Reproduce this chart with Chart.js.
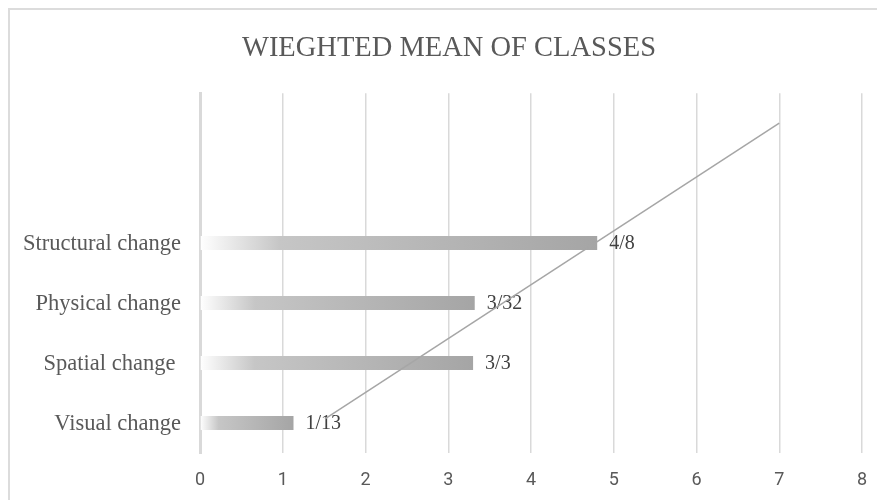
<!DOCTYPE html>
<html lang="en">
<head>
<meta charset="UTF-8">
<script src="https://cdn.jsdelivr.net/npm/chart.js@4.4.0/dist/chart.umd.min.js"></script>
<title>Wieghted mean of classes</title>
<style>
  html, body { margin: 0; background: #fff; overflow: hidden; }
  .frame {
    position: absolute; left: 8px; top: 8px; width: 900px; height: 520px;
    border-left: 2px solid #dcdcdc; border-top: 2px solid #dcdcdc;
  }
  /* the original chart frame runs past the right edge of the picture */
  .chart-container { position: absolute; left: 0; top: 0; width: 898px; height: 500px; }
</style>
</head>
<body>
<div class="frame"></div>
<div class="chart-container"><canvas id="myChart"></canvas></div>
<script>
// categories top to bottom (top two rows are empty in the original)
const categories = ['', '', 'Structural change', 'Physical change', 'Spatial change ', 'Visual change'];
const values = [null, null, 4.8, 3.32, 3.3, 1.13];
const valueLabels = [null, null, '4/8', '3/32', '3/3', '1/13'];
// the straight grey line across the plot
const lineX = [1.51, 7];
const lineY = [0.57, 5.5];

const textGrey = '#595959';
const gridGrey = '#d9d9d9';

function barGradient(ctx) {
  const chart = ctx.chart;
  if (!chart.chartArea || ctx.type !== 'data') return '#b0b0b0';
  const x = chart.scales.x;
  const x0 = x.getPixelForValue(0);
  const x1 = x.getPixelForValue(ctx.raw || 0);
  const g = chart.ctx.createLinearGradient(x0, 0, Math.max(x1, x0 + 1), 0);
  g.addColorStop(0, '#ffffff');
  g.addColorStop(0.2, '#c6c6c6');
  g.addColorStop(1, '#a5a5a5');
  return g;
}

// value labels to the right of the bars
const barLabels = {
  id: 'barLabels',
  afterDatasetDraw(chart, args) {
    if (args.index !== 0) return;
    const c = chart.ctx;
    c.save();
    c.font = '20px "Liberation Serif", "Times New Roman", serif';
    c.fillStyle = '#404040';
    c.textBaseline = 'middle';
    c.textAlign = 'left';
    args.meta.data.forEach((bar, i) => {
      if (valueLabels[i]) c.fillText(valueLabels[i], bar.x + 12, bar.y + 1);
    });
    c.restore();
  }
};

const config = {
  type: 'bar',
  data: {
    labels: categories,
    datasets: [{
      data: values,
      backgroundColor: barGradient,
      grouped: false,
      maxBarThickness: 14,
      order: 2
    }, {
      type: 'line',
      data: lineX.map((x, i) => ({ x: x, y: lineY[i] })),
      yAxisID: 'y2',
      borderColor: '#a6a6a6',
      borderWidth: 1.5,
      pointRadius: 0,
      fill: false,
      order: 1
    }]
  },
  options: {
    indexAxis: 'y',
    responsive: true,
    maintainAspectRatio: false,
    animation: false,
    layout: { padding: 0 },
    plugins: {
      legend: { display: false },
      tooltip: { enabled: false },
      title: {
        display: true,
        text: 'WIEGHTED MEAN OF CLASSES',
        color: textGrey,
        font: { family: '"Liberation Serif", "Times New Roman", serif', size: 28.5, weight: 'normal' },
        padding: { top: 31, bottom: 28 }
      }
    },
    scales: {
      x: {
        min: 0,
        max: 8,
        ticks: {
          stepSize: 1,
          padding: 17,
          color: textGrey,
          font: { family: '"Liberation Sans Narrow", Roboto, sans-serif', size: 18 }
        },
        grid: { color: gridGrey, lineWidth: 1.5, drawTicks: false },
        border: { display: false },
        afterFit(scale) { scale.height = 47; }
      },
      y: {
        ticks: {
          padding: 19,
          labelOffset: 1,
          color: textGrey,
          font: { family: '"Liberation Serif", "Times New Roman", serif', size: 22.5 }
        },
        grid: { display: false, drawTicks: false },
        border: { display: true, color: gridGrey, width: 3 },
        afterFit(scale) { scale.width = 200; }
      },
      y2: {
        type: 'linear',
        min: 0,
        max: 6,
        offset: false,
        display: false
      },
      // empty space on the right of the plot
      yRight: {
        type: 'linear',
        position: 'right',
        ticks: { display: false },
        grid: { display: false },
        border: { display: false },
        afterFit(scale) { scale.width = 36; }
      }
    }
  },
  plugins: [barLabels]
};

window.onload = function() {
  const ctx = document.getElementById('myChart').getContext('2d');
  window.myChart = new Chart(ctx, config);
};
</script>
</body>
</html>
